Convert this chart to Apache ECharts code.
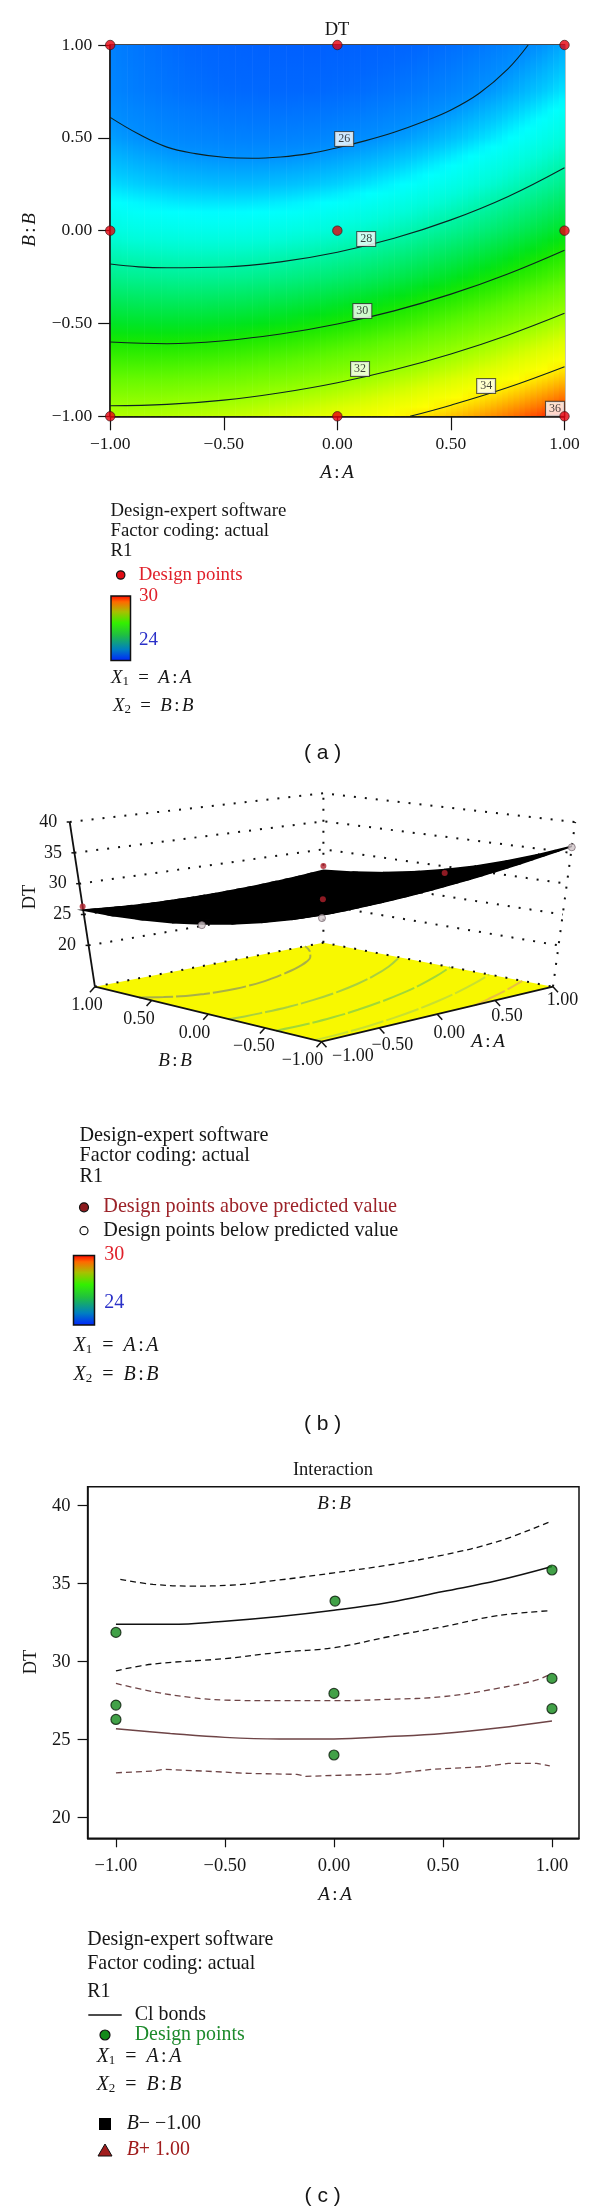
<!DOCTYPE html>
<html>
<head>
<meta charset="utf-8">
<title>DT response surface</title>
<style>
  html, body { margin: 0; padding: 0; background: #fff; }
  #chart { width: 600px; height: 2212px; }
</style>
<script src="https://cdn.jsdelivr.net/npm/echarts@6/dist/echarts.min.js"></script>
</head>
<body>
<div id="chart"></div>
<script>
const SERIF = '"Liberation Serif", serif'
const SANS = '"Liberation Sans", sans-serif'
const MINUS = '\u2212'

// response surface: one row per B level, one value per A level
const fieldA = [-1, -0.9, -0.8, -0.7, -0.6, -0.5, -0.4, -0.3, -0.2, -0.1, 0, 0.1, 0.2, 0.3, 0.4, 0.5, 0.6, 0.7, 0.8, 0.9, 1]
const fieldB = [1, 0.75, 0.5, 0.25, 0, -0.25, -0.5, -0.75, -1]
const fieldRows = [
  [25.73, 25.57, 25.44, 25.33, 25.23, 25.16, 25.10, 25.06, 25.04, 25.03, 25.05, 25.08, 25.14, 25.21, 25.30, 25.41, 25.53, 25.68, 25.84, 26.02, 26.23],
  [25.82, 25.69, 25.58, 25.49, 25.41, 25.35, 25.32, 25.30, 25.30, 25.31, 25.35, 25.40, 25.48, 25.57, 25.68, 25.80, 25.95, 26.12, 26.30, 26.50, 26.72],
  [26.13, 26.02, 25.93, 25.85, 25.80, 25.76, 25.74, 25.74, 25.76, 25.80, 25.86, 25.93, 26.02, 26.13, 26.26, 26.41, 26.58, 26.76, 26.97, 27.19, 27.43],
  [26.65, 26.56, 26.49, 26.43, 26.40, 26.38, 26.38, 26.40, 26.44, 26.50, 26.57, 26.67, 26.78, 26.91, 27.06, 27.23, 27.42, 27.62, 27.85, 28.09, 28.35],
  [27.38, 27.30, 27.25, 27.22, 27.20, 27.21, 27.23, 27.27, 27.33, 27.40, 27.50, 27.61, 27.75, 27.90, 28.07, 28.26, 28.46, 28.69, 28.93, 29.19, 29.48],
  [28.31, 28.26, 28.23, 28.21, 28.22, 28.24, 28.28, 28.34, 28.42, 28.52, 28.64, 28.77, 28.92, 29.09, 29.28, 29.49, 29.72, 29.96, 30.23, 30.51, 30.81],
  [29.46, 29.43, 29.41, 29.42, 29.44, 29.49, 29.55, 29.63, 29.73, 29.85, 29.98, 30.14, 30.31, 30.50, 30.71, 30.94, 31.18, 31.45, 31.73, 32.04, 32.36],
  [30.81, 30.80, 30.81, 30.83, 30.88, 30.94, 31.02, 31.12, 31.24, 31.38, 31.54, 31.71, 31.90, 32.11, 32.34, 32.59, 32.86, 33.14, 33.45, 33.77, 34.11],
  [32.38, 32.38, 32.41, 32.46, 32.52, 32.61, 32.71, 32.83, 32.97, 33.12, 33.30, 33.49, 33.71, 33.94, 34.19, 34.46, 34.74, 35.05, 35.37, 35.71, 36.08]
]
const paletteValues = [24.8, 25.3, 26, 26.5, 26.9, 27.5, 28, 29, 29.6, 30, 31, 32, 33, 33.8, 34.5, 35.3, 36.1]
const paletteColors = ['#0058ff', '#0068ff', '#0090ff', '#00c8ff', '#00ffff', '#00fcd8', '#00f4a8', '#00e850', '#00e418', '#18e800', '#60f800', '#98ff00', '#dcff00', '#ffff00', '#ffc000', '#ff7000', '#ff1000']

// contour lines of panel (a), [A, B]
const contour26 = [[-1, 0.61], [-0.875, 0.52], [-0.75, 0.45], [-0.625, 0.415], [-0.5, 0.395], [-0.375, 0.39], [-0.25, 0.397], [-0.125, 0.415], [0, 0.447], [0.125, 0.485], [0.25, 0.53], [0.375, 0.585], [0.5, 0.65], [0.625, 0.74], [0.75, 0.87], [0.84, 1]]
const contour28 = [[-1, -0.18], [-0.875, -0.195], [-0.75, -0.2], [-0.5, -0.196], [-0.25, -0.168], [0, -0.116], [0.25, -0.041], [0.5, 0.058], [0.75, 0.183], [1, 0.339]]
const contour30 = [[-1, -0.6], [-0.75, -0.609], [-0.5, -0.593], [-0.25, -0.557], [0, -0.503], [0.25, -0.432], [0.5, -0.342], [0.75, -0.233], [1, -0.105]]
const contour32 = [[-1, -0.943], [-0.75, -0.936], [-0.5, -0.913], [-0.25, -0.873], [0, -0.819], [0.25, -0.749], [0.5, -0.664], [0.75, -0.563], [1, -0.445]]
const contour34 = [[0.32, -1], [0.5, -0.94], [0.75, -0.845], [1, -0.733]]
const contourLabels = [
  { name: '26', value: [0.03, 0.494] },
  { name: '28', value: [0.127, -0.045] },
  { name: '30', value: [0.11, -0.433] },
  { name: '32', value: [0.1, -0.745] },
  { name: '34', value: [0.655, -0.837] },
  { name: '36', value: [0.958, -0.96] }
]
const designGrid = [[-1, 1], [0, 1], [1, 1], [-1, 0], [0, 0], [1, 0], [-1, -1], [0, -1], [1, -1]]

// panel (b), design points as [A, B, DT]
const pointsAbove = [[-1, 1, 26.3], [0, 0, 28], [1, 1, 27], [1, 0, 28.9]]
const pointsBelow = [[-1, -1, 31.9], [1, -1, 35.9], [-1, 0, 27.2]]
const zTicks = [20, 25, 30, 35, 40]
const floorTicks = [1, 0.5, 0, -0.5, -1]
const floorTickLabels = ['1.00', '0.50', '0.00', MINUS + '0.50', MINUS + '1.00']

// panel (c), interaction plot, [A, DT]
const axisTicksC = [-1, -0.5, 0, 0.5, 1]
const dtTicksC = [20, 25, 30, 35, 40]
const lineBMinus = [[-1, 32.4], [-0.75, 32.4], [-0.5, 32.6], [-0.25, 32.9], [0, 33.3], [0.25, 33.8], [0.5, 34.5], [0.75, 35.2], [1, 36.1]]
const lineBPlus = [[-1, 25.7], [-0.75, 25.4], [-0.5, 25.15], [-0.25, 25.05], [0, 25.05], [0.25, 25.2], [0.5, 25.4], [0.75, 25.75], [1, 26.2]]
const upperBMinus = [[-0.98, 35.28], [-0.83, 34.96], [-0.65, 34.85], [-0.48, 34.9], [-0.25, 35.24], [0, 35.7], [0.25, 36.2], [0.5, 36.84], [0.75, 37.7], [0.99, 38.97]]
const lowerBMinus = [[-1, 29.42], [-0.83, 29.85], [-0.5, 30.2], [-0.25, 30.6], [0, 30.9], [0.25, 31.6], [0.5, 32.24], [0.75, 32.95], [0.99, 33.27]]
const upperBPlus = [[-1, 28.61], [-0.83, 28.08], [-0.65, 27.7], [-0.5, 27.54], [-0.25, 27.5], [0, 27.5], [0.25, 27.59], [0.5, 27.76], [0.75, 28.29], [0.93, 28.83], [0.99, 29.19]]
const lowerBPlus = [[-1, 22.88], [-0.83, 22.99], [-0.78, 23.1], [-0.6, 22.99], [-0.39, 22.84], [-0.17, 22.78], [-0.13, 22.65], [0, 22.71], [0.25, 22.8], [0.45, 23.1], [0.68, 23.27], [0.8, 23.48], [0.93, 23.48], [0.99, 23.33]]
const pointsC = [[-1, 31.88], [-1, 27.22], [-1, 26.3], [0.005, 33.89], [0, 27.97], [0, 24.02], [1, 35.88], [1, 28.93], [1, 26.99]]

const colorbarStops = [
  { offset: 0, color: '#ff0000' }, { offset: 0.1, color: '#ff6a00' }, { offset: 0.25, color: '#a8c000' },
  { offset: 0.42, color: '#33f000' }, { offset: 0.6, color: '#20c040' }, { offset: 0.82, color: '#0080c0' },
  { offset: 1, color: '#0020ff' }
]

function hexToRgb(hex) {
  return [parseInt(hex.slice(1, 3), 16), parseInt(hex.slice(3, 5), 16), parseInt(hex.slice(5, 7), 16)]
}

function valueColor(v) {
  let i = 0
  while (i < paletteValues.length - 2 && v > paletteValues[i + 1]) i++
  const t = Math.min(1, Math.max(0, (v - paletteValues[i]) / (paletteValues[i + 1] - paletteValues[i])))
  const a = hexToRgb(paletteColors[i])
  const b = hexToRgb(paletteColors[i + 1])
  return `rgb(${a.map((c, k) => Math.round(c + (b[k] - c) * t)).join(',')})`
}

// vertical colour ramp of one strip; the strip sits a fraction of the way from table column col to col+1
function stripGradient(col, frac) {
  const next = Math.min(col + 1, fieldA.length - 1)
  const at = r => fieldRows[r][col] + (fieldRows[r][next] - fieldRows[r][col]) * frac
  const stops = []
  const n = fieldB.length - 1
  for (let r = 0; r < n; r++) {
    for (let s = 0; s < 5; s++) {
      stops.push({ offset: (r + s / 5) / n, color: valueColor(at(r) + (at(r + 1) - at(r)) * s / 5) })
    }
  }
  stops.push({ offset: 1, color: valueColor(at(n)) })
  return new echarts.graphic.LinearGradient(0, 0, 0, 1, stops)
}

// 3D box of panel (b), corners in page pixels
const Z_FLOOR = 13.3
const Z_TOP = 40
const floorCorners = { F: [321.5, 1041.7], R: [553, 986.7], L: [94.9, 986.7], K: [323.4, 942.7] }
const topCorners = { F: [322.2, 864.3], R: [575.2, 822], L: [69.7, 822], K: [323.4, 793.3] }

function bilinear(c, A, B) {
  const u = (A + 1) / 2
  const v = (B + 1) / 2
  return [0, 1].map(k =>
    (1 - u) * (1 - v) * c.F[k] + u * (1 - v) * c.R[k] + (1 - u) * v * c.L[k] + u * v * c.K[k])
}

function proj(A, B, z) {
  const t = (z - Z_FLOOR) / (Z_TOP - Z_FLOOR)
  const f = bilinear(floorCorners, A, B)
  const p = bilinear(topCorners, A, B)
  return [f[0] + (p[0] - f[0]) * t, f[1] + (p[1] - f[1]) * t]
}

function tickLabel(v) {
  return (v < 0 ? MINUS : '') + Math.abs(v).toFixed(2)
}

function txt(x, y, text, opt) {
  const o = opt || {}
  return {
    type: 'text', x, y, silent: true, z: 20,
    style: {
      text,
      fill: o.fill || '#161616',
      font: `${o.italic ? 'italic ' : ''}${o.size || 18}px ${o.family || SERIF}`,
      textAlign: o.align || 'left',
      textVerticalAlign: 'middle',
      rich: o.rich
    }
  }
}

function pairRich(size, fill) {
  return {
    i: { font: `italic ${size}px ${SERIF}`, fill: fill || '#161616' },
    n: { font: `${size}px ${SERIF}`, fill: fill || '#161616' },
    c: { font: `${size}px ${SERIF}`, fill: fill || '#161616', padding: [0, 2.5, 0, 2.5] },
    s: { font: `13px ${SERIF}`, fill: fill || '#161616', verticalAlign: 'bottom', padding: [7, 0, 0, 0] }
  }
}

function factorLine(x, y, n, letter, size) {
  return txt(x, y, `{i|X}{s|${n}}{n|  =  }{i|${letter}}{c|:}{i|${letter}}`, { rich: pairRich(size) })
}

function pairLabel(x, y, letter) {
  return txt(x, y, `{i|${letter}}{c|:}{i|${letter}}`, { rich: pairRich(19), align: 'center' })
}

function colorbar(x, y, w, h) {
  return {
    type: 'rect', z: 20, silent: true,
    shape: { x, y, width: w, height: h },
    style: { fill: new echarts.graphic.LinearGradient(0, 0, 0, 1, colorbarStops), stroke: '#111', lineWidth: 1.5 }
  }
}

function dot(x, y, r, fill, stroke) {
  return { type: 'circle', z: 20, silent: true, shape: { cx: x, cy: y, r }, style: { fill, stroke: stroke || '#111', lineWidth: 1.2 } }
}

const graphics = [
  // panel (a)
  txt(337, 30, 'DT', { align: 'center', size: 18.5 }),
  pairLabel(337, 473, 'A'),
  Object.assign(pairLabel(30, 230, 'B'), { rotation: Math.PI / 2 }),
  txt(110.5, 511, 'Design-expert software', { size: 18.8 }),
  txt(110.5, 531, 'Factor coding: actual', { size: 18.8 }),
  txt(110.5, 551, 'R1', { size: 18.8 }),
  dot(120.7, 575, 4.2, '#e00c14'),
  txt(138.7, 575, 'Design points', { fill: '#e0202a', size: 18.8 }),
  colorbar(111, 596, 19.5, 64.5),
  txt(139, 596, '30', { fill: '#e0202a', size: 19 }),
  txt(139, 640, '24', { fill: '#2a30c8', size: 19 }),
  factorLine(111, 678, 1, 'A', 18.8),
  factorLine(113, 706, 2, 'B', 18.8),
  txt(322.7, 753, '( a )', { align: 'center', size: 21, family: SANS }),

  // panel (b)
  Object.assign(txt(30.6, 897, 'DT', { align: 'center', size: 18.5 }), { rotation: Math.PI / 2 }),
  pairLabel(175, 1061, 'B'),
  pairLabel(488, 1042, 'A'),
  txt(79.5, 1136, 'Design-expert software', { size: 20.2 }),
  txt(79.5, 1156, 'Factor coding: actual', { size: 20.2 }),
  txt(79.5, 1177, 'R1', { size: 20.2 }),
  dot(84, 1207.3, 4.5, '#8c1a1e'),
  txt(103.3, 1207, 'Design points above predicted value', { fill: '#9c2228', size: 20.2 }),
  dot(84, 1230.7, 4, '#fff'),
  txt(103.3, 1231, 'Design points below predicted value', { size: 20.2 }),
  colorbar(73.5, 1255.5, 21, 69.5),
  txt(104.3, 1255, '30', { fill: '#e0202a', size: 20 }),
  txt(104.3, 1303, '24', { fill: '#2a30c8', size: 20 }),
  factorLine(73.5, 1346, 1, 'A', 20),
  factorLine(73.5, 1375, 2, 'B', 20),
  txt(322.7, 1424, '( b )', { align: 'center', size: 21, family: SANS }),

  // panel (c)
  txt(333, 1470, 'Interaction', { align: 'center', size: 18.5 }),
  pairLabel(334, 1504, 'B'),
  pairLabel(335, 1895, 'A'),
  Object.assign(txt(31, 1662, 'DT', { align: 'center', size: 18.5 }), { rotation: Math.PI / 2 }),
  txt(87.3, 1940, 'Design-expert software', { size: 19.9 }),
  txt(87.3, 1964, 'Factor coding: actual', { size: 19.9 }),
  txt(87.3, 1992, 'R1', { size: 19.9 }),
  { type: 'line', z: 20, silent: true, shape: { x1: 88.3, y1: 2015, x2: 121.7, y2: 2015 }, style: { stroke: '#111', lineWidth: 1.3 } },
  txt(134.7, 2015, 'Cl bonds', { size: 19.9 }),
  dot(105, 2035, 5, '#138a1a'),
  txt(134.7, 2035, 'Design points', { fill: '#1d8a2c', size: 19.9 }),
  factorLine(96.7, 2057, 1, 'A', 19.9),
  factorLine(96.7, 2085, 2, 'B', 19.9),
  { type: 'rect', z: 20, silent: true, shape: { x: 99, y: 2118, width: 12, height: 12 }, style: { fill: '#000' } },
  txt(126.7, 2124, `{i|B}{n|${MINUS} ${MINUS}1.00}`, { rich: pairRich(19.9) }),
  { type: 'polygon', z: 20, silent: true, shape: { points: [[105, 2144], [112, 2156], [98, 2156]] }, style: { fill: '#a01c1c', stroke: '#111', lineWidth: 1 } },
  txt(126.7, 2150, '{i|B}{n|+ 1.00}', { rich: pairRich(19.9, '#a01c1c') }),
  txt(322.7, 2196, '( c )', { align: 'center', size: 21, family: SANS })
]

// labels of the 3D axes, placed from the projection
zTicks.forEach(z => {
  const p = proj(-1, 1, z)
  graphics.push(txt(p[0] - 21.5, p[1], String(z), { align: 'center', size: 18 }))
})
const bLabelOffset = [[-8, 18.3], [-12.6, 19], [-13.8, 19.3], [-11, 18], [-19, 18.3]]
const aLabelOffset = [[9.6, 14], [11.9, 16.3], [11.9, 18.7], [13, 17.7], [31.4, 14.3]]
floorTicks.forEach((v, i) => {
  const pb = proj(-1, v, Z_FLOOR)
  graphics.push(txt(pb[0] + bLabelOffset[i][0], pb[1] + bLabelOffset[i][1], floorTickLabels[i], { align: 'center', size: 18 }))
  const pa = proj(v, -1, Z_FLOOR)
  graphics.push(txt(pa[0] + aLabelOffset[i][0], pa[1] + aLabelOffset[i][1], floorTickLabels[i], { align: 'center', size: 18 }))
})

function contourLine(data) {
  return {
    type: 'line', xAxisIndex: 0, yAxisIndex: 0, data, smooth: 0.4, showSymbol: false, silent: true, z: 5,
    lineStyle: { color: '#0c2222', width: 1.1 }
  }
}

function floorContour(data, color) {
  return {
    type: 'line', xAxisIndex: 1, yAxisIndex: 1, data: data.map(d => proj(d[0], d[1], Z_FLOOR)),
    smooth: 0.4, showSymbol: false, silent: true, z: 4,
    lineStyle: { color, width: 2, type: [34, 3] }
  }
}

function boxDotted(points) {
  return {
    type: 'line', xAxisIndex: 1, yAxisIndex: 1, data: points, showSymbol: false, silent: true, z: 3,
    lineStyle: { color: '#111', width: 2, type: [2, 9] }
  }
}

function boxLine(points, width) {
  return {
    type: 'line', xAxisIndex: 1, yAxisIndex: 1, data: points, showSymbol: false, silent: true, z: 7,
    lineStyle: { color: '#111', width: width || 1.8 }
  }
}

function ciLine(data, color, dashed) {
  return {
    type: 'line', xAxisIndex: 2, yAxisIndex: 2, data, smooth: 0.4, showSymbol: false, silent: true, z: 4,
    lineStyle: { color, width: dashed ? 1.3 : 1.5, type: dashed ? [6, 4] : 'solid' }
  }
}

const meshCells = []
for (let r = 0; r < fieldB.length - 1; r++) {
  for (let c = 0; c < fieldA.length - 1; c++) meshCells.push([c, r])
}

const tickStubs = []
floorTicks.forEach(v => {
  tickStubs.push({ from: proj(-1, v, Z_FLOOR), dx: -5, dy: 5.5 })
  tickStubs.push({ from: proj(v, -1, Z_FLOOR), dx: 5, dy: 5.5 })
})
zTicks.forEach(z => tickStubs.push({ from: proj(-1, 1, z), dx: -3, dy: 0 }))

// every table column is shaded across four narrow strips so no seams show
const STRIPS = 4
const fieldStrips = []
for (let c = 0; c < fieldA.length - 1; c++) {
  for (let s = 0; s < STRIPS; s++) fieldStrips.push([c, s / STRIPS])
}

const series = [
  // panel (a) coloured field
  {
    type: 'custom', xAxisIndex: 0, yAxisIndex: 0, silent: true, z: 2,
    data: fieldStrips,
    renderItem(params, api) {
      const c = fieldStrips[params.dataIndex][0]
      const f = fieldStrips[params.dataIndex][1]
      const step = fieldA[c + 1] - fieldA[c]
      const tl = api.coord([fieldA[c] + step * f, 1])
      const br = api.coord([fieldA[c] + step * (f + 1 / STRIPS), -1])
      return {
        type: 'rect',
        shape: { x: tl[0], y: tl[1], width: br[0] - tl[0] + 0.6, height: br[1] - tl[1] },
        style: { fill: stripGradient(c, f + 0.5 / STRIPS) }
      }
    }
  },
  contourLine(contour26),
  contourLine(contour28),
  contourLine(contour30),
  contourLine(contour32),
  contourLine(contour34),
  {
    type: 'scatter', xAxisIndex: 0, yAxisIndex: 0, data: contourLabels, symbolSize: 1, silent: true, z: 8, clip: false,
    itemStyle: { color: 'transparent' },
    label: {
      show: true, position: 'inside', formatter: '{b}', color: '#111', fontSize: 12, fontFamily: SERIF,
      backgroundColor: '#fff', borderColor: '#333', borderWidth: 1, padding: [1, 3, 1, 3]
    }
  },
  {
    type: 'scatter', xAxisIndex: 0, yAxisIndex: 0, data: designGrid, symbolSize: 9.5, silent: true, z: 9, clip: false,
    itemStyle: { color: '#e6000c', borderColor: '#301010', borderWidth: 0.8 }
  },

  // panel (b) floor of the box
  {
    type: 'custom', xAxisIndex: 1, yAxisIndex: 1, silent: true, z: 3,
    data: [[0, 0]],
    renderItem(params, api) {
      const c = [[-1, 1], [-1, -1], [1, -1], [1, 1]].map(p => api.coord(proj(p[0], p[1], Z_FLOOR)))
      return { type: 'polygon', shape: { points: c }, style: { fill: '#f8f800' } }
    }
  },
  floorContour(contour26, '#a8b048'),
  floorContour(contour28, '#a8d040'),
  floorContour(contour30, '#a0d838'),
  floorContour(contour32, '#c8e030'),
  floorContour(contour34, '#e8c040')
]

// dotted walls of the box
zTicks.concat([Z_FLOOR]).forEach(z => {
  series.push(boxDotted([proj(-1, 1, z), proj(1, 1, z), proj(1, -1, z)]))
})
series.push(boxDotted([proj(1, 1, Z_FLOOR), proj(1, 1, Z_TOP)]))
series.push(boxDotted([proj(1, -1, Z_FLOOR), proj(1, -1, Z_TOP)]))

series.push(
  boxLine([proj(-1, 1, Z_FLOOR), proj(-1, 1, Z_TOP)]),
  boxLine([proj(-1, 1, Z_FLOOR), proj(-1, -1, Z_FLOOR), proj(1, -1, Z_FLOOR)]),
  {
    type: 'custom', xAxisIndex: 1, yAxisIndex: 1, silent: true, z: 7,
    data: tickStubs.map((t, i) => [t.from[0], t.from[1], i]),
    renderItem(params, api) {
      const t = tickStubs[params.dataIndex]
      const a = api.coord(t.from)
      return {
        type: 'line',
        shape: { x1: a[0], y1: a[1], x2: a[0] + t.dx, y2: a[1] + t.dy },
        style: { stroke: '#111', lineWidth: 1.5 }
      }
    }
  },
  // the response surface is so dense in the original that it reads as a black sheet
  {
    type: 'custom', xAxisIndex: 1, yAxisIndex: 1, silent: true, z: 8,
    data: meshCells,
    renderItem(params, api) {
      const c = meshCells[params.dataIndex][0]
      const r = meshCells[params.dataIndex][1]
      const pts = [[c, r], [c + 1, r], [c + 1, r + 1], [c, r + 1]].map(p =>
        api.coord(proj(fieldA[p[0]], fieldB[p[1]], fieldRows[p[1]][p[0]])))
      return { type: 'polygon', shape: { points: pts }, style: { fill: '#000', stroke: '#000', lineWidth: 1.6 } }
    }
  },
  {
    type: 'scatter', xAxisIndex: 1, yAxisIndex: 1, data: pointsAbove.map(p => proj(p[0], p[1], p[2])),
    symbolSize: 6, silent: true, z: 9, itemStyle: { color: '#b0202c' }
  },
  {
    type: 'scatter', xAxisIndex: 1, yAxisIndex: 1, data: pointsBelow.map(p => proj(p[0], p[1], p[2])),
    symbolSize: 7, silent: true, z: 9, itemStyle: { color: '#cfc4c8', borderColor: '#807078', borderWidth: 1 }
  },

  // panel (c)
  ciLine(lineBMinus, '#111', false),
  ciLine(upperBMinus, '#111', true),
  ciLine(lowerBMinus, '#111', true),
  ciLine(lineBPlus, '#6e4446', false),
  ciLine(upperBPlus, '#6e4446', true),
  Object.assign(ciLine(lowerBPlus, '#6e4446', true), { smooth: false }),
  {
    type: 'scatter', xAxisIndex: 2, yAxisIndex: 2, data: pointsC, symbolSize: 10, silent: true, z: 6, clip: false,
    itemStyle: { color: '#138a1a', borderColor: '#0a1a0a', borderWidth: 1.2 }
  }
)

const axisFont = { fontFamily: SERIF, fontSize: 17.5, color: '#161616' }
const axisLine = { show: true, onZero: false, lineStyle: { color: '#111', width: 1.5 } }

const chart = echarts.init(document.getElementById('chart'))
chart.setOption({
  animation: false,
  backgroundColor: '#fff',
  grid: [
    { left: 110.2, top: 45, width: 454.3, height: 371.3, show: true, borderColor: '#111', borderWidth: 1.5, backgroundColor: 'transparent' },
    { left: 0, top: 0, width: 600, height: 2212, show: false },
    { left: 87.6, top: 1486.7, width: 491.4, height: 351.6, show: true, borderColor: '#111', borderWidth: 1.5, backgroundColor: 'transparent' }
  ],
  xAxis: [
    {
      gridIndex: 0, type: 'value', min: -1, max: 1, interval: 0.5, z: 6,
      axisLine, axisTick: { length: 14, lineStyle: { color: '#111', width: 1.2 } }, splitLine: { show: false },
      axisLabel: Object.assign({ margin: 19, formatter: tickLabel, showMinLabel: true, showMaxLabel: true }, axisFont)
    },
    { gridIndex: 1, type: 'value', min: 0, max: 600, show: false },
    {
      gridIndex: 2, type: 'value', min: -1.13, max: 1.124,
      axisLine, splitLine: { show: false },
      axisTick: { length: 9, customValues: axisTicksC, lineStyle: { color: '#111', width: 1.2 } },
      axisLabel: { margin: 18, customValues: axisTicksC, formatter: tickLabel, fontSize: 18.5, fontFamily: SERIF, color: '#161616' }
    }
  ],
  yAxis: [
    {
      gridIndex: 0, type: 'value', min: -1, max: 1, interval: 0.5, z: 6,
      axisLine, axisTick: { length: 12, lineStyle: { color: '#111', width: 1.2 } }, splitLine: { show: false },
      axisLabel: Object.assign({ margin: 18, formatter: tickLabel, showMinLabel: true, showMaxLabel: true }, axisFont)
    },
    { gridIndex: 1, type: 'value', min: 0, max: 2212, inverse: true, show: false },
    {
      gridIndex: 2, type: 'value', min: 18.68, max: 41.22,
      axisLine, splitLine: { show: false },
      axisTick: { length: 10, customValues: dtTicksC, lineStyle: { color: '#111', width: 1.2 } },
      axisLabel: { margin: 17, customValues: dtTicksC, fontFamily: SERIF, fontSize: 18.5, color: '#161616' }
    }
  ],
  graphic: graphics,
  series
})
</script>
</body>
</html>
